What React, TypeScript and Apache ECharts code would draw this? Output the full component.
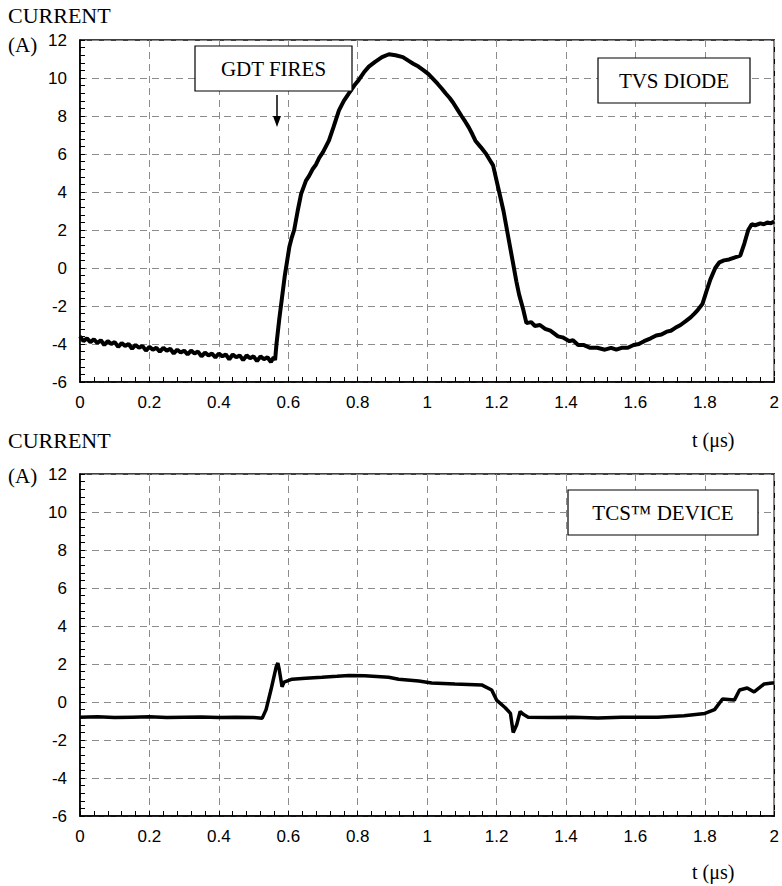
import React, { useEffect, useRef } from "react";
import * as echarts from "echarts";

// Time axis (µs) and current axis (A) ticks
const timeTicks = [0, 0.2, 0.4, 0.6, 0.8, 1, 1.2, 1.4, 1.6, 1.8, 2];
const currentTicks = [-6, -4, -2, 0, 2, 4, 6, 8, 10, 12];

// TVS diode current trace: [t (µs), current (A)]
const tvsTrace: [number, number][] = [
  [0, -3.6], [0.01, -3.85], [0.02, -3.7], [0.03, -3.9], [0.04, -3.75], [0.05, -3.95],
  [0.06, -3.8], [0.07, -4.05], [0.08, -3.85], [0.09, -4.0], [0.1, -3.9], [0.11, -4.15],
  [0.12, -3.95], [0.13, -4.1], [0.14, -4.0], [0.15, -4.25], [0.16, -4.05], [0.17, -4.2],
  [0.18, -4.1], [0.19, -4.35], [0.2, -4.15], [0.21, -4.3], [0.22, -4.2], [0.23, -4.4],
  [0.24, -4.2], [0.25, -4.35], [0.26, -4.25], [0.27, -4.5], [0.28, -4.3], [0.29, -4.45],
  [0.3, -4.35], [0.31, -4.55], [0.32, -4.35], [0.33, -4.5], [0.34, -4.4], [0.35, -4.65],
  [0.36, -4.45], [0.37, -4.6], [0.38, -4.5], [0.39, -4.7], [0.4, -4.5], [0.41, -4.65],
  [0.42, -4.55], [0.43, -4.8], [0.44, -4.55], [0.45, -4.7], [0.46, -4.6], [0.47, -4.85],
  [0.48, -4.6], [0.49, -4.75], [0.5, -4.65], [0.51, -4.9], [0.52, -4.65], [0.53, -4.8],
  [0.54, -4.7], [0.55, -4.95], [0.558, -4.7], [0.562, -4.85], [0.566, -4.0], [0.574, -2.7],
  [0.59, -0.4], [0.603, 1.1], [0.61, 1.6], [0.617, 2.0], [0.627, 3.0], [0.637, 3.9],
  [0.651, 4.6], [0.66, 4.85], [0.67, 5.2], [0.68, 5.45], [0.689, 5.8], [0.7, 6.1],
  [0.717, 6.7], [0.73, 7.4], [0.746, 8.3], [0.76, 8.8], [0.775, 9.2], [0.79, 9.6],
  [0.803, 9.9], [0.818, 10.3], [0.832, 10.6], [0.85, 10.85], [0.87, 11.1], [0.89, 11.25],
  [0.909, 11.2], [0.93, 11.1], [0.947, 10.9], [0.96, 10.75], [0.975, 10.6], [0.99, 10.4],
  [1.004, 10.2], [1.017, 9.95], [1.03, 9.7], [1.042, 9.45], [1.053, 9.2], [1.065, 8.95],
  [1.075, 8.7], [1.087, 8.35], [1.099, 8.0], [1.11, 7.7], [1.12, 7.4], [1.13, 7.05],
  [1.139, 6.7], [1.155, 6.35], [1.17, 6.0], [1.18, 5.7], [1.19, 5.4], [1.2, 4.6],
  [1.21, 3.8], [1.22, 3.0], [1.235, 1.5], [1.248, 0.2], [1.257, -0.7], [1.265, -1.4],
  [1.277, -2.2], [1.286, -2.9], [1.3, -2.85], [1.31, -3.05], [1.325, -3.0], [1.34, -3.2],
  [1.355, -3.3], [1.377, -3.6], [1.39, -3.65], [1.41, -3.85], [1.42, -3.8], [1.435, -4.05],
  [1.45, -4.05], [1.47, -4.2], [1.49, -4.2], [1.512, -4.3], [1.53, -4.2], [1.545, -4.3],
  [1.56, -4.2], [1.578, -4.2], [1.595, -4.05], [1.61, -4.0], [1.625, -3.85], [1.644, -3.7],
  [1.66, -3.55], [1.675, -3.5], [1.69, -3.35], [1.702, -3.3], [1.715, -3.15], [1.73, -3.0],
  [1.745, -2.8], [1.759, -2.6], [1.77, -2.4], [1.78, -2.2], [1.793, -1.9], [1.805, -1.2],
  [1.816, -0.6], [1.83, 0.0], [1.842, 0.3], [1.855, 0.4], [1.87, 0.45], [1.885, 0.55],
  [1.902, 0.65], [1.914, 1.3], [1.925, 2.0], [1.935, 2.3], [1.945, 2.25], [1.96, 2.35],
  [1.97, 2.3], [1.98, 2.4], [1.99, 2.35], [2.0, 2.45],
];

// TCS device current trace: [t (µs), current (A)]
const tcsTrace: [number, number][] = [
  [0, -0.8], [0.05, -0.78], [0.1, -0.82], [0.15, -0.8], [0.2, -0.78], [0.25, -0.82],
  [0.3, -0.8], [0.35, -0.79], [0.4, -0.81], [0.45, -0.8], [0.5, -0.82], [0.525, -0.85],
  [0.536, -0.4], [0.55, 0.63], [0.565, 1.84], [0.57, 2.05], [0.574, 1.7], [0.582, 0.8],
  [0.588, 1.05], [0.611, 1.2], [0.65, 1.25], [0.697, 1.3], [0.74, 1.35], [0.775, 1.4],
  [0.82, 1.38], [0.889, 1.3], [0.918, 1.2], [0.976, 1.1], [1.013, 1.0], [1.08, 0.95],
  [1.157, 0.9], [1.186, 0.63], [1.2, 0.1], [1.225, -0.3], [1.24, -0.6], [1.248, -1.6],
  [1.258, -1.2], [1.268, -0.5], [1.277, -0.65], [1.291, -0.8], [1.35, -0.82], [1.42, -0.8],
  [1.492, -0.84], [1.56, -0.8], [1.664, -0.8], [1.74, -0.72], [1.8, -0.6], [1.828, -0.4],
  [1.851, 0.16], [1.885, 0.1], [1.9, 0.63], [1.922, 0.74], [1.942, 0.53], [1.971, 0.95],
  [1.994, 1.0], [2.0, 1.0],
];

const SERIF = "'Liberation Serif', 'Times New Roman', serif";
const SANS = "'Liberation Sans', Arial, sans-serif";

const GRID_LEFT = 80;
const GRID_WIDTH = 697;
const GRID_HEIGHT = 342;
const GRID_TOPS = [40, 474];

const gridLineStyle = { color: "#8c8c8c", type: [7, 5], width: 1 };

function xAxisFor(gridIndex: number) {
  return {
    type: "value" as const,
    gridIndex,
    min: timeTicks[0],
    max: timeTicks[timeTicks.length - 1],
    interval: 0.2,
    axisLine: { show: true, onZero: false, lineStyle: { color: "#000", width: 1.5 } },
    axisTick: { show: true, inside: true, length: 5, lineStyle: { color: "#000" } },
    minorTick: { show: true, splitNumber: 5, length: 5, lineStyle: { color: "#000" } },
    axisLabel: {
      color: "#000",
      fontFamily: SANS,
      fontSize: 17,
      margin: 12,
      formatter: (v: number) => String(Math.round(v * 10) / 10),
    },
    splitLine: { show: true, lineStyle: gridLineStyle },
  };
}

function yAxisFor(gridIndex: number) {
  return {
    type: "value" as const,
    gridIndex,
    min: currentTicks[0],
    max: currentTicks[currentTicks.length - 1],
    interval: 2,
    axisLine: { show: true, onZero: false, lineStyle: { color: "#000", width: 1.5 } },
    axisTick: { show: true, inside: true, length: 5, lineStyle: { color: "#000" } },
    minorTick: { show: true, splitNumber: 5, length: 5, lineStyle: { color: "#000" } },
    axisLabel: { color: "#000", fontFamily: SANS, fontSize: 17, margin: 13 },
    splitLine: { show: true, lineStyle: gridLineStyle },
  };
}

function labelBox(x: number, y: number, w: number, h: number, text: string) {
  return {
    type: "group",
    children: [
      {
        type: "rect",
        shape: { x, y, width: w, height: h },
        style: { fill: "#fff", stroke: "#000", lineWidth: 1.2 },
        z: 10,
      },
      {
        type: "text",
        x: x + w / 2,
        y: y + h / 2,
        style: {
          text,
          fill: "#000",
          font: `21px ${SERIF}`,
          textAlign: "center",
          textVerticalAlign: "middle",
        },
        z: 11,
      },
    ],
  };
}

function serifText(x: number, y: number, text: string, size = 21) {
  return {
    type: "text",
    x,
    y,
    style: { text, fill: "#000", font: `${size}px ${SERIF}`, textVerticalAlign: "top" },
  };
}

export default function App() {
  const ref = useRef<HTMLDivElement>(null);

  useEffect(() => {
    document.body.style.margin = "0";
    if (!ref.current) return;
    const chart = echarts.init(ref.current, null, { renderer: "svg" });

    chart.setOption({
      animation: false,
      backgroundColor: "#fff",
      grid: GRID_TOPS.map((top) => ({
        left: GRID_LEFT,
        top,
        width: GRID_WIDTH,
        height: GRID_HEIGHT,
        show: true,
        borderColor: "#000",
        borderWidth: 1.5,
        backgroundColor: "transparent",
      })),
      xAxis: [xAxisFor(0), xAxisFor(1)],
      yAxis: [yAxisFor(0), yAxisFor(1)],
      series: [
        {
          name: "TVS DIODE",
          type: "line",
          xAxisIndex: 0,
          yAxisIndex: 0,
          data: tvsTrace,
          showSymbol: false,
          lineStyle: { color: "#000", width: 4 },
          z: 5,
        },
        {
          name: "TCS™ DEVICE",
          type: "line",
          xAxisIndex: 1,
          yAxisIndex: 1,
          data: tcsTrace,
          showSymbol: false,
          lineStyle: { color: "#000", width: 3.5 },
          z: 5,
        },
      ],
      graphic: [
        serifText(8, 4, "CURRENT", 22),
        serifText(8, 34, "(A)", 21),
        serifText(8, 429, "CURRENT", 22),
        serifText(8, 465, "(A)", 21),
        serifText(692, 430, "t (μs)", 20),
        serifText(692, 862, "t (μs)", 20),
        labelBox(195, 46, 157, 45, "GDT FIRES"),
        labelBox(598, 58, 152, 45, "TVS DIODE"),
        labelBox(568, 490, 190, 45, "TCS™ DEVICE"),
        {
          type: "line",
          shape: { x1: 277, y1: 95, x2: 277, y2: 118 },
          style: { stroke: "#000", lineWidth: 1.5 },
          z: 10,
        },
        {
          type: "polygon",
          shape: { points: [[273, 116], [281, 116], [277, 127]] },
          style: { fill: "#000" },
          z: 10,
        },
      ],
    });

    return () => chart.dispose();
  }, []);

  return <div ref={ref} style={{ width: 782, height: 886 }} />;
}
